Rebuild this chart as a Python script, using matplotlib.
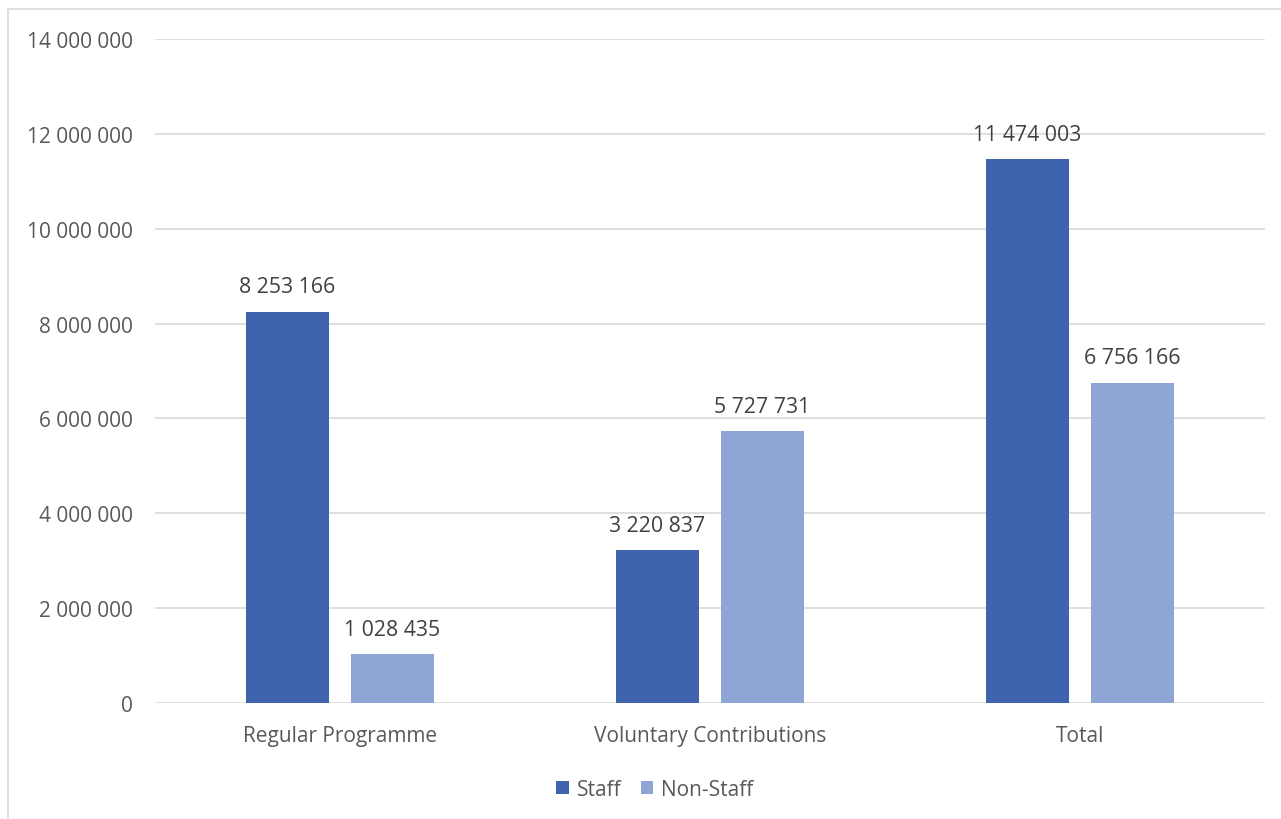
import matplotlib.pyplot as plt
import numpy as np
from matplotlib.patches import Rectangle

categories = ["Regular Programme", "Voluntary Contributions", "Total"]
staff = [8253166, 3220837, 11474003]
non_staff = [1028435, 5727731, 6756166]
yticks = [0, 2000000, 4000000, 6000000, 8000000, 10000000, 12000000, 14000000]

def fmt(v):
    return f"{v:,}".replace(",", " ")

plt.rcParams['font.family'] = ['Open Sans', 'DejaVu Sans']
text_col = "#595959"

fig = plt.figure(figsize=(12.81, 8.2), dpi=100)
W, H = 1281, 820
ax = fig.add_axes([155 / W, 1 - 704 / H, (1265 - 155) / W, (704 - 40) / H])

# chart border (only left/top visible in the reference)
fig.patches.append(Rectangle((8 / W, -0.05), 1.1, 1 - 10 / H + 0.05, transform=fig.transFigure,
                             fill=False, edgecolor="#D9D9D9", linewidth=1.2))

x = np.arange(len(categories))
w = 0.224
off = 0.142
b1 = ax.bar(x - off, staff, w, color="#3F64AD", label="Staff", zorder=3)
b2 = ax.bar(x + off, non_staff, w, color="#8FA5D5", label="Non-Staff", zorder=3)

for bars, vals in ((b1, staff), (b2, non_staff)):
    for r, v in zip(bars, vals):
        ax.text(r.get_x() + r.get_width() / 2, v + 300000, fmt(v), ha="center", va="bottom",
                fontsize=15.3, color="#404040")

ax.set_xlim(-0.5, 2.5)
ax.set_ylim(0, 14000000)
ax.set_yticks(yticks)
ax.set_yticklabels([fmt(t) for t in yticks])
ax.set_xticks(x)
ax.set_xticklabels(categories)
ax.tick_params(axis="both", length=0, labelsize=15, labelcolor=text_col)
ax.tick_params(axis="y", pad=16)
ax.tick_params(axis="x", pad=16)
ax.grid(axis="y", color="#D9D9D9", linewidth=1.2, zorder=0)
for s in ax.spines.values():
    s.set_visible(False)

ax.legend(loc="upper center", bbox_to_anchor=(655 / W, 1 - 761 / H), bbox_transform=fig.transFigure,
          ncol=2, frameon=False, fontsize=15, handlelength=0.6, handleheight=0.6,
          handletextpad=0.4, columnspacing=0.9, labelcolor=text_col)

fig.savefig("out.png", dpi=100)
